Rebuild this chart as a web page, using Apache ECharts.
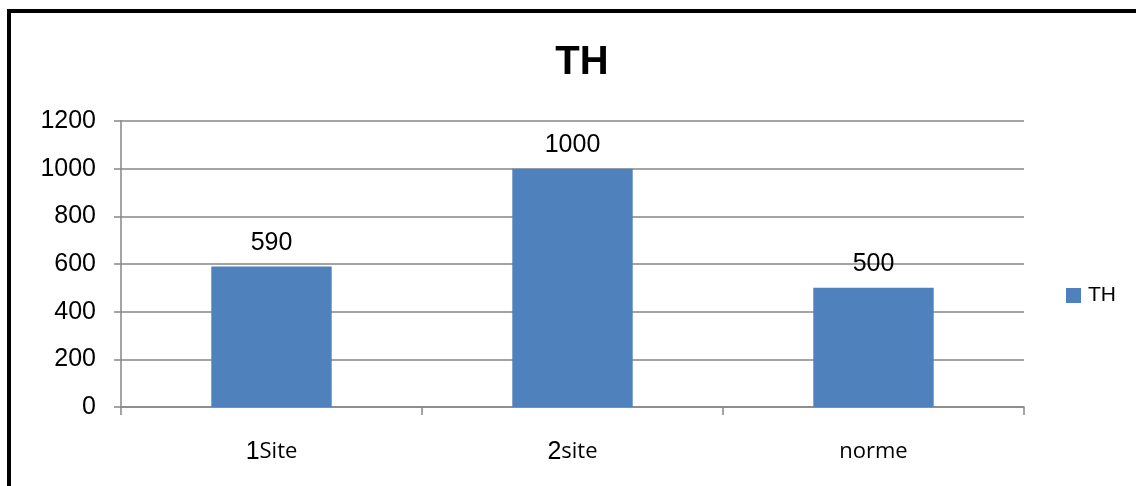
<!DOCTYPE html>
<html>
<head>
<meta charset="utf-8">
<script src="https://cdn.jsdelivr.net/npm/echarts@6/dist/echarts.min.js"></script>
<style>
  html, body { margin: 0; padding: 0; background: #fff; }
  #chart { width: 1136px; height: 486px; }
</style>
</head>
<body>
<div id="chart"></div>
<script>
// Chart data
const categories = ['1Site', '2site', 'norme'];
const thValues = [590, 1000, 500];
const seriesName = 'TH';
const chartTitle = 'TH';

const chart = echarts.init(document.getElementById('chart'), null, { renderer: 'canvas' });

// Leading digit in Arial-like face, the rest in a Calibri-like face
function categoryLabel(v) {
  const m = v.match(/^(\d+)(.*)$/);
  return m ? '{d|' + m[1] + '}{t|' + m[2] + '}' : '{t|' + v + '}';
}

const gray = '#868686';

chart.setOption({
  animation: false,
  backgroundColor: '#ffffff',
  title: {
    text: chartTitle,
    left: 577,
    top: 38,
    textAlign: 'center',
    textStyle: { fontFamily: 'Liberation Sans, Arial', fontWeight: 'bold', fontSize: 40, color: '#000' }
  },
  legend: {
    data: [seriesName],
    left: 1061,
    top: 280,
    itemWidth: 15,
    itemHeight: 15,
    itemGap: 6,
    icon: 'rect',
    textStyle: { fontFamily: 'Liberation Sans, Arial', fontSize: 21, color: '#000', padding: [0, 0, 0, 2] }
  },
  grid: { left: 121, top: 121, right: 1136 - 1024, bottom: 486 - 407, containLabel: false },
  xAxis: {
    type: 'category',
    data: categories,
    axisLine: { lineStyle: { color: gray, width: 1.5 } },
    axisTick: { show: true, length: 8, alignWithLabel: false, lineStyle: { color: gray, width: 1.5 } },
    axisLabel: {
      margin: 28,
      formatter: categoryLabel,
      rich: {
        d: { fontFamily: 'Liberation Sans, Arial', fontSize: 25, color: '#000', lineHeight: 30, verticalAlign: 'bottom' },
        t: { fontFamily: 'Open Sans, Noto Sans', fontSize: 22, color: '#000', lineHeight: 30, verticalAlign: 'bottom', padding: [0, 0, 2, 0] }
      }
    }
  },
  yAxis: {
    type: 'value',
    min: 0,
    max: 1200,
    interval: 200,
    axisLine: { show: true, lineStyle: { color: gray, width: 1.5 } },
    axisTick: { show: true, length: 7, lineStyle: { color: gray, width: 1.5 } },
    splitLine: { lineStyle: { color: gray, width: 1.5 } },
    axisLabel: {
      margin: 25,
      formatter: v => String(v),
      fontFamily: 'Liberation Sans, Arial',
      fontSize: 25,
      color: '#000'
    }
  },
  series: [{
    name: seriesName,
    type: 'bar',
    data: thValues,
    barWidth: '40%',
    itemStyle: { color: '#4F81BD' },
    label: {
      show: true,
      position: 'top',
      distance: 11,
      fontFamily: 'Liberation Sans, Arial',
      fontSize: 25,
      color: '#000'
    }
  }],
  graphic: [
    { type: 'rect', shape: { x: 7, y: 9, width: 1129, height: 4 }, style: { fill: '#000' }, z: 100 },
    { type: 'rect', shape: { x: 7, y: 9, width: 4, height: 477 }, style: { fill: '#000' }, z: 100 }
  ]
});
</script>
</body>
</html>
